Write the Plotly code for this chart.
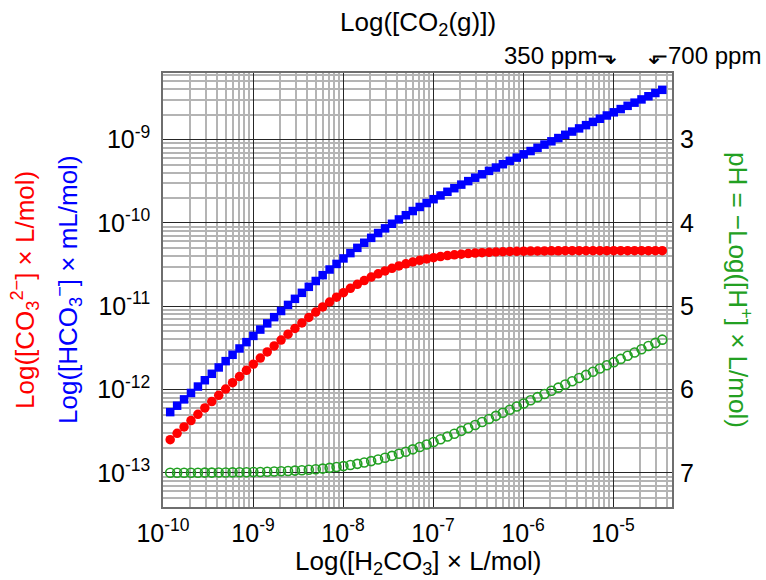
import math
import plotly.graph_objects as go

# Dissolved CO2 (carbonic acid) in pure water: speciation vs. [H2CO3]
log_h2co3 = [
    -9.920, -9.843, -9.766, -9.689, -9.612, -9.535, -9.458, -9.381,
    -9.304, -9.227, -9.150, -9.073, -8.996, -8.919, -8.842, -8.765,
    -8.688, -8.611, -8.534, -8.457, -8.380, -8.303, -8.226, -8.149,
    -8.072, -7.995, -7.918, -7.841, -7.764, -7.687, -7.610, -7.533,
    -7.456, -7.379, -7.302, -7.225, -7.148, -7.071, -6.994, -6.917,
    -6.840, -6.763, -6.686, -6.609, -6.532, -6.455, -6.378, -6.301,
    -6.224, -6.147, -6.070, -5.993, -5.916, -5.839, -5.762, -5.685,
    -5.608, -5.531, -5.454, -5.377, -5.300, -5.223, -5.146, -5.069,
    -4.992, -4.915, -4.838, -4.761, -4.684, -4.607, -4.530, -4.453,
]

# log10([HCO3-] x mL/mol)
log_hco3 = [
    -12.271, -12.194, -12.118, -12.041, -11.964, -11.888, -11.811, -11.735,
    -11.659, -11.583, -11.507, -11.431, -11.356, -11.280, -11.206, -11.131,
    -11.057, -10.984, -10.911, -10.839, -10.767, -10.697, -10.627, -10.559,
    -10.492, -10.426, -10.362, -10.299, -10.238, -10.179, -10.121, -10.065,
    -10.010, -9.958, -9.907, -9.857, -9.808, -9.761, -9.715, -9.670,
    -9.626, -9.583, -9.540, -9.498, -9.457, -9.416, -9.375, -9.335,
    -9.295, -9.255, -9.216, -9.176, -9.137, -9.098, -9.059, -9.020,
    -8.981, -8.942, -8.903, -8.865, -8.826, -8.787, -8.749, -8.710,
    -8.672, -8.633, -8.594, -8.556, -8.517, -8.479, -8.440, -8.402,
]

# log10([CO3 2-] x L/mol)
log_co3 = [
    -12.602, -12.526, -12.449, -12.373, -12.297, -12.221, -12.145, -12.069,
    -11.994, -11.918, -11.844, -11.769, -11.695, -11.622, -11.549, -11.477,
    -11.406, -11.336, -11.267, -11.200, -11.134, -11.070, -11.008, -10.949,
    -10.891, -10.837, -10.785, -10.737, -10.692, -10.650, -10.611, -10.576,
    -10.545, -10.516, -10.491, -10.469, -10.449, -10.432, -10.417, -10.404,
    -10.392, -10.383, -10.375, -10.368, -10.362, -10.357, -10.353, -10.349,
    -10.346, -10.343, -10.341, -10.339, -10.338, -10.337, -10.336, -10.335,
    -10.334, -10.333, -10.333, -10.333, -10.333, -10.333, -10.333, -10.333,
    -10.333, -10.333, -10.333, -10.333, -10.333, -10.333, -10.333, -10.333,
]

# pH = -log10([H+] x L/mol)
ph = [
    6.999, 6.999, 6.998, 6.998, 6.998, 6.997, 6.997, 6.996,
    6.995, 6.994, 6.993, 6.992, 6.990, 6.989, 6.987, 6.984,
    6.981, 6.978, 6.973, 6.969, 6.963, 6.956, 6.949, 6.940,
    6.930, 6.919, 6.906, 6.892, 6.876, 6.859, 6.839, 6.818,
    6.796, 6.771, 6.746, 6.718, 6.690, 6.660, 6.629, 6.597,
    6.564, 6.530, 6.496, 6.461, 6.425, 6.389, 6.353, 6.316,
    6.279, 6.242, 6.204, 6.167, 6.129, 6.091, 6.053, 6.015,
    5.977, 5.939, 5.901, 5.862, 5.824, 5.786, 5.747, 5.709,
    5.671, 5.632, 5.594, 5.555, 5.517, 5.478, 5.440, 5.401,
]

assert len(log_h2co3) == len(log_hco3) == len(log_co3) == len(ph)

# Atmospheric CO2 reference levels and the matching [H2CO3]
ppm_labels = ["350 ppm", "700 ppm"]
ppm_h2co3 = [1.17e-5, 2.34e-5]

x_decades = [-10, -9, -8, -7, -6, -5]
y_decades = [-13, -12, -11, -10, -9]
ph_ticks = [3, 4, 5, 6, 7]

X_RANGE = [-10.0, -4.345]
Y_RANGE = [-13.41, -8.20]
# pH axis shares the concentration axis: pH p sits at 10^-(p+6)
PH_RANGE = [-Y_RANGE[0] - 6, -Y_RANGE[1] - 6]

FONT = "Liberation Sans, Arial, Helvetica, sans-serif"
RED = "#ff0000"
BLUE = "#0000ff"
GREEN = "#22a022"
MAJOR_GRID = "#262626"
MINOR_GRID = "#b4b4b4"

x_vals = [10 ** v for v in log_h2co3]

fig = go.Figure()
fig.add_trace(go.Scatter(
    x=x_vals, y=[10 ** v for v in log_co3], mode="markers",
    marker=dict(symbol="circle", size=9.5, color=RED),
    name="CO3 2-", xaxis="x", yaxis="y",
))
fig.add_trace(go.Scatter(
    x=x_vals, y=[10 ** v for v in log_hco3], mode="markers",
    marker=dict(symbol="square", size=8.5, color=BLUE),
    name="HCO3-", xaxis="x", yaxis="y",
))
fig.add_trace(go.Scatter(
    x=x_vals, y=ph, mode="markers",
    marker=dict(symbol="circle-open", size=9, color=GREEN, line=dict(width=1.6, color=GREEN)),
    name="pH", xaxis="x", yaxis="y2",
))

x_minor = [m * 10.0 ** d for d in range(-11, -3) for m in range(2, 10)]
y_minor = [m * 10.0 ** d for d in range(-14, -7) for m in range(2, 10)]

fig.update_layout(
    width=766, height=580,
    margin=dict(l=163, r=94, t=73, b=73),
    paper_bgcolor="white", plot_bgcolor="white",
    showlegend=False,
    font=dict(family=FONT, size=25, color="black"),
    xaxis=dict(
        type="log", range=X_RANGE,
        tickmode="array",
        tickvals=[10.0 ** d for d in x_decades],
        ticktext=[f"10<sup>{d}</sup>" for d in x_decades],
        tickfont=dict(size=25),
        ticks="", ticklabelstandoff=3,
        showgrid=True, gridcolor=MAJOR_GRID, gridwidth=1.4,
        minor=dict(tickmode="array", tickvals=x_minor, showgrid=True,
                   gridcolor=MINOR_GRID, gridwidth=1.5, ticks=""),
        showline=True, linecolor="#6e6e6e", linewidth=1.5, mirror=True,
        zeroline=False,
    ),
    yaxis=dict(
        type="log", range=Y_RANGE,
        tickmode="array",
        tickvals=[10.0 ** d for d in y_decades],
        ticktext=[f"10<sup>{d}</sup>" for d in y_decades],
        tickfont=dict(size=25),
        ticks="", ticklabelstandoff=6,
        showgrid=True, gridcolor=MAJOR_GRID, gridwidth=1.4,
        minor=dict(tickmode="array", tickvals=y_minor, showgrid=True,
                   gridcolor=MINOR_GRID, gridwidth=1.5, ticks=""),
        showline=True, linecolor="#6e6e6e", linewidth=1.5, mirror=True,
        zeroline=False,
    ),
    yaxis2=dict(
        overlaying="y", side="right",
        range=PH_RANGE,
        tickmode="array", tickvals=ph_ticks,
        ticktext=[str(t) for t in ph_ticks],
        tickfont=dict(size=25),
        ticks="", ticklabelstandoff=7,
        showgrid=False, zeroline=False, showline=False,
    ),
)

annotations = [
    # top: gas-phase CO2 scale
    dict(text="Log([CO<sub>2</sub>(g)])", xref="paper", yref="paper",
         x=0.5, y=1.0, yshift=50, xanchor="center", yanchor="middle",
         showarrow=False, font=dict(size=26)),
    # bottom axis title
    dict(text="Log([H<sub>2</sub>CO<sub>3</sub>] × L/mol)", xref="paper", yref="paper",
         x=0.5, y=0.0, yshift=-55, xanchor="center", yanchor="middle",
         showarrow=False, font=dict(size=26)),
    # left axis titles
    dict(text="Log([CO<sub>3</sub><sup>2−</sup>] × L/mol)", xref="paper", yref="paper",
         x=0.0, y=0.5, xshift=-138, xanchor="center", yanchor="middle",
         textangle=-90, showarrow=False, font=dict(size=26, color=RED)),
    dict(text="Log([HCO<sub>3</sub><sup>−</sup>] × mL/mol)", xref="paper", yref="paper",
         x=0.0, y=0.5, xshift=-95, xanchor="center", yanchor="middle",
         textangle=-90, showarrow=False, font=dict(size=26, color=BLUE)),
    # right axis title
    dict(text="pH = −Log([H<sup>+</sup>] × L/mol)", xref="paper", yref="paper",
         x=1.0, y=0.5, xshift=68, xanchor="center", yanchor="middle",
         textangle=90, showarrow=False, font=dict(size=26, color=GREEN)),
    # CO2 reference levels
    dict(text=ppm_labels[0] + "⬎", xref="x", yref="paper",
         x=math.log10(ppm_h2co3[0]), y=1.0, yshift=18,
         xanchor="right", yanchor="middle", showarrow=False, font=dict(size=24)),
    dict(text="⬐" + ppm_labels[1], xref="x", yref="paper",
         x=math.log10(ppm_h2co3[1]), y=1.0, yshift=18,
         xanchor="left", yanchor="middle", showarrow=False, font=dict(size=24)),
]
fig.update_layout(annotations=annotations)

fig.write_html("out.html")
